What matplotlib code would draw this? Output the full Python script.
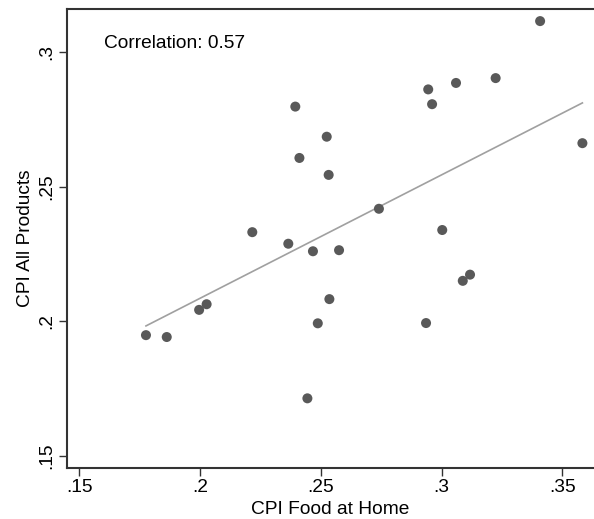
import matplotlib.pyplot as plt
import numpy as np

plt.rcParams['font.family'] = ['Liberation Sans', 'DejaVu Sans']

# CPI shares by item group
food_at_home = [0.1777, 0.1863, 0.1997, 0.2028, 0.2217, 0.2366, 0.2395, 0.2412,
                0.2445, 0.2468, 0.2488, 0.2525, 0.2533, 0.2536, 0.2576, 0.2741,
                0.2936, 0.2945, 0.2961, 0.3003, 0.3060, 0.3088, 0.3118, 0.3224,
                0.3408, 0.3583]
all_products = [0.1948, 0.1941, 0.2042, 0.2063, 0.2331, 0.2288, 0.2798, 0.2607,
                0.1713, 0.2260, 0.1992, 0.2686, 0.2544, 0.2082, 0.2264, 0.2418,
                0.1993, 0.2862, 0.2807, 0.2339, 0.2886, 0.2150, 0.2173, 0.2904,
                0.3116, 0.2662]
xticks = [0.15, 0.2, 0.25, 0.3, 0.35]
yticks = [0.15, 0.2, 0.25, 0.3]
tick_labels_x = ['.15', '.2', '.25', '.3', '.35']
tick_labels_y = ['.15', '.2', '.25', '.3']

x = np.array(food_at_home)
y = np.array(all_products)
slope, intercept = np.polyfit(x, y, 1)
xs = np.array([x.min(), x.max()])

fig = plt.figure(figsize=(5.94, 5.19), dpi=100)
ax = fig.add_axes([66.7 / 594, 1 - 467.7 / 519, 1 - 66.7 / 594, 458.7 / 519])

ax.plot(xs, intercept + slope * xs, color='#a0a0a0', lw=1.2, zorder=2)
ax.scatter(x, y, s=52, color='#595959', edgecolors='none', zorder=3)

fs = 13.8
ax.set_xlim(0.1449, 0.3631)
ax.set_ylim(0.1455, 0.3161)
ax.set_xticks(xticks)
ax.set_xticklabels(tick_labels_x)
ax.set_yticks(yticks)
ax.set_yticklabels(tick_labels_y, rotation=90, va='center')
ax.tick_params(axis='both', direction='out', length=6, width=1, color='#333333',
               labelsize=fs, pad=2)

ax.spines['right'].set_visible(False)
for side in ['left', 'bottom', 'top']:
    ax.spines[side].set_color('#333333')
    ax.spines[side].set_linewidth(1.5)

ax.set_xlabel('CPI Food at Home', fontsize=fs, labelpad=4)
ax.set_ylabel('CPI All Products', fontsize=fs, labelpad=3)

ax.text(0.0707, 0.924, 'Correlation: 0.57', transform=ax.transAxes,
        fontsize=fs, va='center', ha='left')

fig.savefig('out.png', dpi=100)
